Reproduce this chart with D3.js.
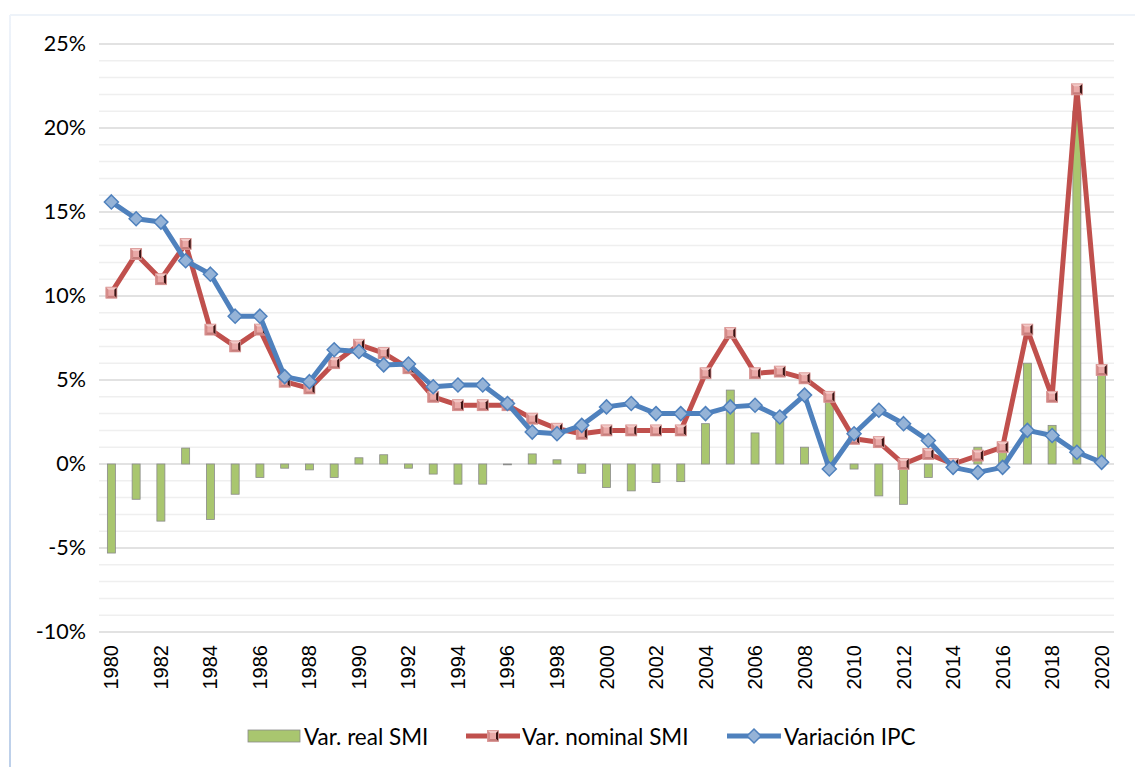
<!DOCTYPE html>
<html>
<head>
<meta charset="utf-8">
<script src="https://cdn.jsdelivr.net/npm/d3@7/dist/d3.min.js"></script>
<style>
  html, body { margin: 0; padding: 0; background: #ffffff; }
  svg { display: block; }
</style>
</head>
<body>
<svg id="chart" width="1135" height="767"></svg>
<script>
// ---- data (percent) ----
const years = d3.range(1980, 2021);
const realSMI = [-5.3,-2.1,-3.4,0.95,-3.3,-1.8,-0.8,-0.25,-0.35,-0.8,
                 0.37,0.55,-0.25,-0.6,-1.2,-1.2,-0.05,0.6,0.25,-0.55,
                 -1.4,-1.6,-1.1,-1.05,2.4,4.4,1.85,2.7,1.0,3.7,
                 -0.3,-1.9,-2.4,-0.8,0.2,1.0,0.8,6.0,2.3,21.0,
                 5.4];
const nominalSMI = [10.2,12.5,11.0,13.1,8.0,7.0,8.0,4.9,4.5,6.0,
                    7.1,6.6,5.7,4.0,3.5,3.5,3.5,2.7,2.1,1.8,
                    2.0,2.0,2.0,2.0,5.4,7.8,5.4,5.5,5.1,4.0,
                    1.5,1.3,0.0,0.6,0.0,0.5,1.0,8.0,4.0,22.3,
                    5.6];
const ipc = [15.6,14.6,14.4,12.1,11.3,8.8,8.8,5.2,4.9,6.8,
             6.7,5.9,5.95,4.6,4.7,4.7,3.6,1.9,1.8,2.3,
             3.4,3.6,3.0,3.0,3.0,3.4,3.5,2.8,4.1,-0.3,
             1.8,3.2,2.4,1.4,-0.2,-0.5,-0.2,2.0,1.7,0.7,
             0.1];
const yTicks = [-10, -5, 0, 5, 10, 15, 20, 25];
const yMinorTicks = d3.range(-10, 26, 1);
const seriesNames = ["Var. real SMI", "Var. nominal SMI", "Variación IPC"];

// ---- layout ----
const svg = d3.select("#chart");
const plot = { left: 99, right: 1114, top: 44, bottom: 632 };

const x = d3.scaleBand().domain(years).range([plot.left, plot.right]).paddingInner(0).paddingOuter(0);
const cx = d => x(d) + x.bandwidth() / 2;
const y = d3.scaleLinear().domain([-10, 25]).range([plot.bottom, plot.top]);

// defs
const defs = svg.append("defs");
const grad = defs.append("linearGradient").attr("id", "frameGrad")
  .attr("x1", 0).attr("y1", 0).attr("x2", 0).attr("y2", 1);
grad.append("stop").attr("offset", "0%").attr("stop-color", "#eef3fa");
grad.append("stop").attr("offset", "100%").attr("stop-color", "#bdd0ea");

// outer frame (partial, as visible)
svg.append("line").attr("x1", 10).attr("x2", 1135).attr("y1", 15).attr("y2", 15)
  .attr("stroke", "#eef3f9").attr("stroke-width", 2);
svg.append("rect").attr("x", 9).attr("y", 15).attr("width", 2).attr("height", 752)
  .attr("fill", "url(#frameGrad)");

// gridlines
const grid = svg.append("g");
grid.selectAll("line.minor").data(yMinorTicks.filter(v => v % 5 !== 0)).join("line")
  .attr("class", "minor")
  .attr("x1", plot.left).attr("x2", plot.right)
  .attr("y1", d => y(d)).attr("y2", d => y(d))
  .attr("stroke", "#efefef").attr("stroke-width", 1.5);
grid.selectAll("line.major").data(yTicks).join("line")
  .attr("class", "major")
  .attr("x1", plot.left).attr("x2", plot.right)
  .attr("y1", d => y(d)).attr("y2", d => y(d))
  .attr("stroke", "#d9d9d9").attr("stroke-width", 1.5);

// y axis labels
const yAxis = d3.axisLeft(y).tickValues(yTicks).tickSize(0).tickPadding(0)
  .tickFormat(d => d + "%");
svg.append("g").attr("transform", `translate(86,0)`).call(yAxis)
  .call(g => g.select(".domain").remove())
  .selectAll("text")
  .attr("font-family", "Lato, 'Open Sans', sans-serif")
  .attr("font-size", 21.5).attr("fill", "#000");

// x axis labels (every other year)
const xAxis = d3.axisBottom(x).tickValues(years.filter(v => v % 2 === 0)).tickSize(0).tickPadding(0);
svg.append("g").attr("transform", `translate(0,${plot.bottom})`).call(xAxis)
  .call(g => g.select(".domain").remove())
  .selectAll("text")
  .attr("font-family", "'Liberation Sans', Arial, sans-serif")
  .attr("font-size", 20).attr("fill", "#000")
  .attr("text-anchor", "end")
  .attr("dy", null).attr("y", 0)
  .attr("transform", "translate(0,13) rotate(-90)")
  .attr("dominant-baseline", "central");

// bars
const bw = 8;
svg.append("g").selectAll("rect").data(years).join("rect")
  .attr("x", (d) => cx(d) - bw / 2)
  .attr("y", (d, i) => y(Math.max(0, realSMI[i])))
  .attr("width", bw)
  .attr("height", (d, i) => Math.abs(y(realSMI[i]) - y(0)))
  .attr("fill", "#a9c66f").attr("stroke", "#8a8a8a").attr("stroke-width", 0.8);

// marker drawers
function squareMarker(g, px, py) {
  const s = 11, h = s / 2;
  const m = g.append("g").attr("transform", `translate(${px},${py})`);
  m.append("rect").attr("x", -h).attr("y", -h).attr("width", s).attr("height", s).attr("fill", "#e9a9a7");
  const i = 2.5;
  m.append("path").attr("d", `M${-h},${-h}L${h},${-h}L${h - i},${-h + i}L${-h + i},${-h + i}Z`).attr("fill", "#f3c9c7");
  m.append("path").attr("d", `M${-h},${-h}L${-h + i},${-h + i}L${-h + i},${h - i}L${-h},${h}Z`).attr("fill", "#d48a88");
  m.append("path").attr("d", `M${h},${-h}L${h},${h}L${h - i},${h - i}L${h - i},${-h + i}Z`).attr("fill", "#3a1414");
  m.append("path").attr("d", `M${-h},${h}L${h},${h}L${h - i},${h - i}L${-h + i},${h - i}Z`).attr("fill", "#c77d7b");
  m.append("rect").attr("x", -h).attr("y", -h).attr("width", s).attr("height", s)
    .attr("fill", "none").attr("stroke", "#d99694").attr("stroke-width", 0.8);
}
function diamondMarker(g, px, py) {
  const r = 7;
  g.append("path").attr("d", `M${px},${py - r}L${px + r},${py}L${px},${py + r}L${px - r},${py}Z`)
    .attr("fill", "#95b3d7").attr("stroke", "#4f81bd").attr("stroke-width", 1.5);
}

const line = d3.line().x(d => cx(d[0])).y(d => y(d[1]));

// nominal SMI
const gRed = svg.append("g");
gRed.append("path").datum(years.map((yr, i) => [yr, nominalSMI[i]])).attr("d", line)
  .attr("fill", "none").attr("stroke", "#c0504d").attr("stroke-width", 5).attr("stroke-linejoin", "round");
years.forEach((yr, i) => squareMarker(gRed, cx(yr), y(nominalSMI[i])));

// IPC
const gBlue = svg.append("g");
gBlue.append("path").datum(years.map((yr, i) => [yr, ipc[i]])).attr("d", line)
  .attr("fill", "none").attr("stroke", "#4f81bd").attr("stroke-width", 5).attr("stroke-linejoin", "round");
years.forEach((yr, i) => diamondMarker(gBlue, cx(yr), y(ipc[i])));

// legend
const leg = svg.append("g");
const ly = 736;
const legFont = "Lato, 'Open Sans', sans-serif";
const legSize = 22.5;
leg.append("rect").attr("x", 248).attr("y", ly - 6).attr("width", 52).attr("height", 12)
  .attr("fill", "#a9c66f").attr("stroke", "#8a8a8a").attr("stroke-width", 0.8);
leg.append("text").attr("x", 304).attr("y", ly).attr("dominant-baseline", "central")
  .attr("font-family", legFont).attr("font-size", legSize).text(seriesNames[0]);

leg.append("line").attr("x1", 466).attr("x2", 520).attr("y1", ly).attr("y2", ly)
  .attr("stroke", "#c0504d").attr("stroke-width", 5);
squareMarker(leg, 493, ly);
leg.append("text").attr("x", 522).attr("y", ly).attr("dominant-baseline", "central")
  .attr("font-family", legFont).attr("font-size", legSize).text(seriesNames[1]);

leg.append("line").attr("x1", 727).attr("x2", 781).attr("y1", ly).attr("y2", ly)
  .attr("stroke", "#4f81bd").attr("stroke-width", 5);
diamondMarker(leg, 754, ly);
leg.append("text").attr("x", 784).attr("y", ly).attr("dominant-baseline", "central")
  .attr("font-family", legFont).attr("font-size", legSize).text(seriesNames[2]);
</script>
</body>
</html>
